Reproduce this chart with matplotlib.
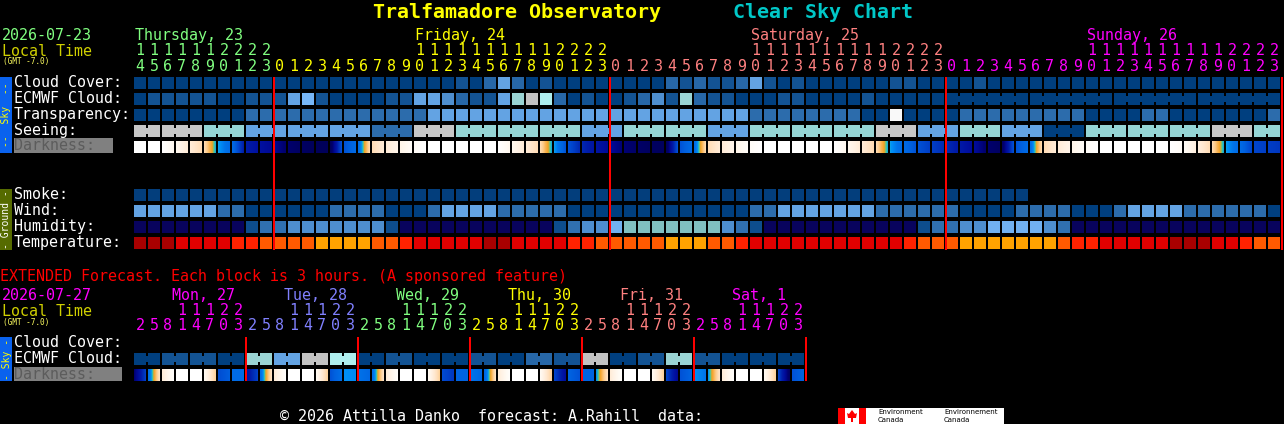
import numpy as np
import matplotlib
matplotlib.use("Agg")
import matplotlib.pyplot as plt
from matplotlib.colors import LinearSegmentedColormap
from matplotlib.patches import Rectangle, Polygon

# ======================= DATA =======================
TITLE = "Tralfamadore Observatory"
SUBTITLE = "Clear Sky Chart"
MAIN_DATE = "2026-07-23"
TZ_NOTE = "(GMT -7.0)"
MAIN_DAYS = ["Thursday, 23", "Friday, 24", "Saturday, 25", "Sunday, 26"]
MAIN_DAY_COLORS = ["#80ff80", "#ffff00", "#ff8080", "#ff00ff"]
MAIN_DAY_LEN = [10, 24, 24, 24]
MAIN_HOURS = list(range(14, 24)) + list(range(24)) * 3

SKY_ROWS = ["Cloud Cover:", "ECMWF Cloud:", "Transparency:", "Seeing:"]
GROUND_ROWS = ["Smoke:", "Wind:", "Humidity:", "Temperature:"]

# cloud cover levels 0 (clear) .. 10 (overcast)
CLOUD_COVER = [0, 0, 0, 0, 0, 0, 0, 0, 0, 0,
               0, 0, 0, 0, 0, 0, 0, 0, 0, 0, 0, 0, 0, 1, 0, 2, 4, 2, 0, 1, 0, 0, 0, 0,
               0, 0, 0, 0, 2, 1, 2, 1, 1, 2, 4, 1, 0, 1, 0, 0, 0, 0, 0, 0, 1, 1, 0, 0,
               0, 0, 1, 0, 0, 0, 0, 0, 0, 0, 0, 0, 0, 0, 0, 0, 0, 0, 0, 0, 0, 0, 0, 0]
ECMWF_CLOUD = [0, 1, 1, 1, 1, 1, 0, 0, 1, 1,
               1, 4, 5, 1, 0, 0, 0, 0, 1, 1, 4, 4, 3, 2, 1, 1, 4, 6, 8, 7, 2, 0, 1, 0,
               0, 1, 2, 3, 1, 6, 2, 1, 1, 0, 0, 0, 1, 1, 0, 0, 0, 0, 1, 0, 0, 0, 0, 0,
               0, 0, 0, 0, 0, 0, 0, 0, 0, 0, 0, 0, 0, 0, 0, 0, 0, 0, 0, 0, 0, 0, 0, 0]
ECMWF_BLOCKS = [1] * 58 + [6, 6, 6, 6]
# quality 0 (best) .. 5 (too cloudy)
TRANSPARENCY = [0, 0, 0, 0, 0, 0, 0, 0, 1, 1,
                1, 1, 1, 1, 1, 1, 1, 1, 1, 1, 1, 2, 2, 2, 2, 2, 2, 2, 2, 2, 2, 2, 2, 2,
                2, 2, 2, 2, 2, 2, 2, 2, 2, 2, 1, 1, 1, 1, 1, 1, 1, 1, 0, 0, 5, 0, 0, 0,
                0, 1, 1, 1, 1, 1, 1, 1, 1, 1, 0, 0, 0, 0, 1, 1, 0, 0, 0, 0, 0, 0, 0, 1]
SEEING = [4, 4, 3, 2, 2, 2, 1, 4, 3, 3, 3, 2, 3, 3, 2, 3, 3, 3, 4, 2, 3, 2, 0, 3, 3, 3, 4, 3]
SEEING_BLOCKS = [2] + [3] * 26 + [2]
# sky darkness at cell edges (-4 daylight ... 7 dark)
DARKNESS_EDGES = [-4, -4, -4, -3.2, -2.4, -1.6,
                  0.8, 2.0, 4.5, 5.0, 5.4, 6.1, 6.5, 6.8, 6.8, 3.0, 2.0, -1.6, -2.4, -3.0, -3.6,
                  -4, -4, -4, -4, -4, -4,
                  -3.2, -2.4, -1.6, 0.8, 3.0, 4.2, 4.8, 5.3, 5.9, 6.3, 6.6, 6.7, 3.0, 2.0, -1.6, -2.4, -3.0, -3.6,
                  -4, -4, -4, -4, -4, -4,
                  -3.2, -2.4, -1.6, 0.8, 2.0, 3.0, 3.6, 4.1, 4.6, 5.2, 6.1, 6.5, 3.0, 2.0, -1.6, -2.4, -3.0, -3.6,
                  -4, -4, -4, -4, -4, -4,
                  -3.6, -2.6, -1.6, 0.8, 2.0, 3.4, 3.6, 3.8]
SMOKE = [0] * 64 + [None] * 18
WIND = [2, 2, 2, 2, 2, 2, 1, 1, 0, 0,
        0, 0, 0, 0, 1, 1, 1, 1, 0, 0, 0, 1, 2, 2, 2, 2, 1, 1, 1, 1, 1, 0, 0, 0,
        0, 0, 0, 0, 0, 0, 0, 0, 0, 0, 1, 1, 2, 2, 2, 2, 2, 2, 2, 1, 1, 1, 1, 1,
        1, 0, 0, 0, 0, 1, 1, 1, 1, 0, 0, 0, 1, 2, 2, 2, 2, 1, 1, 1, 1, 1, 1, 0]
HUMIDITY = [0, 0, 0, 0, 0, 0, 0, 0, 1, 2,
            2, 3, 3, 3, 3, 3, 3, 3, 1, 0, 0, 0, 0, 0, 0, 0, 0, 0, 0, 0, 1, 2, 3, 3,
            4, 5, 5, 5, 5, 5, 5, 5, 3, 2, 1, 0, 0, 0, 0, 0, 0, 0, 0, 0, 0, 0, 1, 2,
            2, 3, 3, 4, 4, 4, 4, 3, 2, 0, 0, 0, 0, 0, 0, 0, 0, 0, 0, 0, 0, 0, 0, 0]
TEMPERATURE = [0, 0, 0, 1, 1, 1, 1, 2, 2, 3,
               3, 3, 3, 4, 4, 4, 4, 3, 3, 2, 1, 1, 1, 1, 1, 0, 0, 1, 1, 1, 1, 2, 2, 3,
               3, 3, 3, 3, 4, 4, 4, 3, 3, 2, 1, 1, 1, 1, 1, 1, 1, 1, 1, 1, 1, 2, 3, 3,
               3, 4, 4, 4, 4, 4, 4, 4, 3, 2, 2, 1, 1, 1, 1, 1, 0, 0, 0, 1, 1, 2, 3, 3]

# extended forecast (3-hour blocks)
EXT_HEADER = "EXTENDED Forecast. Each block is 3 hours. (A sponsored feature)"
EXT_DATE = "2026-07-27"
EXT_DAYS = ["Mon, 27", "Tue, 28", "Wed, 29", "Thu, 30", "Fri, 31", "Sat, 1"]
EXT_DAY_COLORS = ["#ff00ff", "#8080ff", "#80ff80", "#ffff00", "#ff8080", "#ff00ff"]
EXT_HOURS = [2, 5, 8, 11, 14, 17, 20, 23]
EXT_ROWS = ["Cloud Cover:", "ECMWF Cloud:"]
EXT_ECMWF_6H = [0, 1, 1, 0, 6, 4, 8, 7, 0, 1, 0, 0, 1, 0, 2, 1, 8, 0, 1, 6, 1, 0, 0, 0]
EXT_DARK_START = [6.0, 2.0, -2.4, -4, -4, -3.4, 3.2, 2.0,
                  5.0, 2.0, -2.4, -4, -4, -3.4, 3.0, 1.0,
                  1.6, 2.0, -2.4, -4, -4, -3.4, 3.2, 2.4,
                  1.5, 2.4, -2.4, -4, -4, -3.4, 3.4, 2.4,
                  2.4, 1.0, -2.4, -4, -4, -3.4, 3.4, 3.0,
                  1.0, 1.0, -2.4, -4, -4, -3.4, 3.4, 3.0]
EXT_DARK_END = [3.5, -2.0, -3.8, -4, -4, -1.2, 2.6, 2.0,
                3.5, -2.0, -3.8, -4, -4, -1.2, 1.8, 1.1,
                2.2, -2.0, -3.8, -4, -4, -1.2, 3.8, 2.4,
                2.2, -2.0, -3.8, -4, -4, -1.2, 5.2, 3.0,
                2.4, -2.0, -3.8, -4, -4, -1.2, 5.5, 2.4,
                1.5, -2.0, -3.8, -4, -4, -1.2, 6.5, 2.4]

FOOTER = "\u00a9 2026 Attilla Danko  forecast: A.Rahill  data:"

# ======================= STYLE =======================
CLOUD_COLORS = ['#003f7f', '#135393', '#2767a7', '#4f8fcf', '#63a3e3', '#77b7f7',
                '#9ad4d4', '#aeeeee', '#c2c2c2', '#eaeaea', '#fbfbfb']
QUALITY_COLORS = ['#003f7f', '#2c6cac', '#63a3e3', '#95d5d5', '#c7c7c7', '#f9f9f9']
SMOKE_COLORS = ['#033e7c']
HUMID_COLORS = ['#08035d', '#0d4d8d', '#3070b0', '#4e8ece', '#71b1f1', '#80c0c0']
TEMP_COLORS = ['#a80000', '#e10000', '#ff2200', '#ff5a00', '#ffa200']
DARK_NODES = [(-4.0, '#ffffff'), (-3.4, '#fffaf3'), (-2.8, '#fff2e4'), (-2.2, '#ffe8d0'),
              (-1.6, '#ffdcb4'), (-1.0, '#fdca88'), (-0.4, '#f8b048'), (0.1, '#f0a020'),
              (0.45, '#40d0a0'), (0.9, '#0094f8'), (1.5, '#0074ea'), (2.5, '#0062e0'),
              (3.0, '#0052d6'), (3.5, '#0042ca'), (4.0, '#0030b8'), (4.5, '#001ca8'),
              (5.0, '#0010a0'), (5.5, '#000890'), (6.0, '#000070'), (6.5, '#000062'),
              (7.0, '#000056')]
DMIN, DMAX = -4.0, 7.0
dark_cmap = LinearSegmentedColormap.from_list(
    "dark", [((v - DMIN) / (DMAX - DMIN), c) for v, c in DARK_NODES])

MONO = "DejaVu Sans Mono"
FS = 10.8
X0, STEP, CELL = 134, 14, 12

fig = plt.figure(figsize=(12.84, 4.24), dpi=100, facecolor='black')
ax = fig.add_axes([0, 0, 1, 1])
ax.set_facecolor('black')


def txt(x, y, s, color='white', size=FS, **kw):
    ax.text(x, y, s, color=color, fontsize=size, family=MONO, va='baseline',
            ha=kw.pop('ha', 'left'), **kw)


def draw_cells(values, palette, top, blocks=None):
    n = len(values)
    x = X0 + STEP * np.arange(n)
    keep = [i for i in range(n) if values[i] is not None]
    ax.bar(x[keep], CELL, width=CELL, bottom=top, align='edge',
           color=[palette[values[i]] for i in keep], linewidth=0)
    if blocks is not None:
        gid = np.repeat(np.arange(len(blocks)), blocks)
        link = [i for i in range(n - 1) if gid[i] == gid[i + 1] and values[i] is not None]
        if link:
            ax.bar(x[link] + CELL, CELL - 6, width=STEP - CELL, bottom=top + 3, align='edge',
                   color=[palette[values[i]] for i in link], linewidth=0)


def draw_dark(starts, ends, top):
    for i, (a, b) in enumerate(zip(starts, ends)):
        x = X0 + STEP * i
        vals = np.linspace(a, b, 24)
        img = dark_cmap((vals - DMIN) / (DMAX - DMIN))[None, :, :3]
        ax.imshow(img, extent=(x, x + CELL, top + CELL, top), aspect='auto',
                  interpolation='bilinear', zorder=2)


def side_box(y0, y1, color, label, tcolor):
    ax.add_patch(Rectangle((0, y0), 12, y1 - y0, facecolor=color, edgecolor='none'))
    ax.text(6.5, (y0 + y1) / 2, label, rotation=90, ha='center', va='center',
            fontsize=7.0, family=MONO, color=tcolor)


# ---------- title ----------
ax.text(373, 18, TITLE, color='#ffff00', fontsize=14.4, family=MONO, weight='bold', va='baseline')
ax.text(733, 18, SUBTITLE, color='#00c8c8', fontsize=14.4, family=MONO, weight='bold', va='baseline')

# ---------- main header ----------
txt(2, 40, MAIN_DATE, '#80ff80')
txt(2, 56, "Local Time", '#d0d000')
txt(3, 64, TZ_NOTE, '#ffff60', size=5.6)
day_of_col = np.repeat(np.arange(len(MAIN_DAYS)), MAIN_DAY_LEN)
label_col = []
start = 0
for d, ln in enumerate(MAIN_DAY_LEN):
    hrs = MAIN_HOURS[start:start + ln]
    first10 = next(i for i, h in enumerate(hrs) if h >= 10)
    label_col.append(start + first10)
    start += ln
for d, c in enumerate(label_col):
    txt(X0 + STEP * c + 1, 40, MAIN_DAYS[d], MAIN_DAY_COLORS[d])
for i, h in enumerate(MAIN_HOURS):
    cx = X0 + STEP * i + CELL / 2
    col = MAIN_DAY_COLORS[day_of_col[i]]
    if h >= 10:
        txt(cx, 55, str(h // 10), col, ha='center')
    txt(cx, 71, str(h % 10), col, ha='center')

# ---------- sky rows ----------
SKY_TOP = 77
for r, lab in enumerate(SKY_ROWS):
    txt(14, SKY_TOP + 10 + 16 * r, lab)
draw_cells(CLOUD_COVER, CLOUD_COLORS, SKY_TOP)
draw_cells(ECMWF_CLOUD, CLOUD_COLORS, SKY_TOP + 16, ECMWF_BLOCKS)
draw_cells(TRANSPARENCY, QUALITY_COLORS, SKY_TOP + 32)
draw_cells(list(np.repeat(SEEING, SEEING_BLOCKS)), QUALITY_COLORS, SKY_TOP + 48, SEEING_BLOCKS)
ax.add_patch(Rectangle((14, 138), 99, 15, facecolor='#808080', edgecolor='none'))
txt(14, 150, "Darkness:", '#5c5c5c')
draw_dark(DARKNESS_EDGES[:-1], DARKNESS_EDGES[1:], SKY_TOP + 64)
side_box(77, 153, '#0a62ee', "--  Sky  --", '#ffff00')

# ---------- ground rows ----------
GR_TOP = 189
for r, lab in enumerate(GROUND_ROWS):
    txt(14, GR_TOP + 10 + 16 * r, lab)
draw_cells(SMOKE, SMOKE_COLORS, GR_TOP)
draw_cells(WIND, QUALITY_COLORS, GR_TOP + 16)
draw_cells(HUMIDITY, HUMID_COLORS, GR_TOP + 32)
draw_cells(TEMPERATURE, TEMP_COLORS, GR_TOP + 48)
side_box(189, 250, '#566b00', "- Ground -", '#ffffff')

# day separators
ax.vlines(X0 + STEP * np.cumsum(MAIN_DAY_LEN), 77, 250, color='#ff0000', lw=1.44, zorder=5)

# ---------- extended ----------
txt(0, 281, EXT_HEADER, '#ff0000')
txt(2, 300, EXT_DATE, '#ff00ff')
txt(2, 315.5, "Local Time", '#d0d000')
txt(3, 325, TZ_NOTE, '#ffff60', size=5.6)
nh = len(EXT_HOURS)
for d, lab in enumerate(EXT_DAYS):
    txt(X0 + STEP * nh * d + 38, 300, lab, EXT_DAY_COLORS[d])
    for k, h in enumerate(EXT_HOURS):
        cx = X0 + STEP * (nh * d + k) + CELL / 2
        if h >= 10:
            txt(cx, 315, str(h // 10), EXT_DAY_COLORS[d], ha='center')
        txt(cx, 330, str(h % 10), EXT_DAY_COLORS[d], ha='center')

EXT_TOP = 337
for r, lab in enumerate(EXT_ROWS):
    txt(14, EXT_TOP + 10 + 16 * r, lab)
draw_cells(list(np.repeat(EXT_ECMWF_6H, 2)), CLOUD_COLORS, EXT_TOP + 16, [2] * len(EXT_ECMWF_6H))
ax.add_patch(Rectangle((14, 367), 108, 14, facecolor='#808080', edgecolor='none'))
txt(14, 379, "Darkness:", '#5c5c5c')
draw_dark(EXT_DARK_START, EXT_DARK_END, EXT_TOP + 32)
side_box(337, 381, '#0a62ee', "- Sky -", '#ffff00')
ax.vlines(X0 + STEP * nh * np.arange(1, len(EXT_DAYS) + 1), 337, 381, color='#ff0000', lw=1.44, zorder=5)

# ---------- footer ----------
txt(280, 421, FOOTER, '#ffffff')
ax.add_patch(Rectangle((838, 408), 166, 16, facecolor='white', edgecolor='none'))
ax.add_patch(Rectangle((838, 408), 7, 16, facecolor='#ff0000', edgecolor='none'))
ax.add_patch(Rectangle((859, 408), 7, 16, facecolor='#ff0000', edgecolor='none'))
ax.add_patch(Polygon([(852, 410), (855, 414), (857, 413), (856, 418), (853, 418), (853, 422),
                      (851, 422), (851, 418), (848, 418), (847, 413), (849, 414)],
                     closed=True, facecolor='#ff0000', edgecolor='none'))
for x, w in [(878, "Environment"), (944, "Environnement")]:
    ax.text(x, 414.5, w, fontsize=5.0, family="DejaVu Sans", color='black', va='baseline')
    ax.text(x, 422.5, "Canada", fontsize=5.0, family="DejaVu Sans", color='black', va='baseline')

ax.set_xlim(0, 1284)
ax.set_ylim(424, 0)
ax.axis('off')
fig.savefig("out.png", dpi=100, facecolor='black')
